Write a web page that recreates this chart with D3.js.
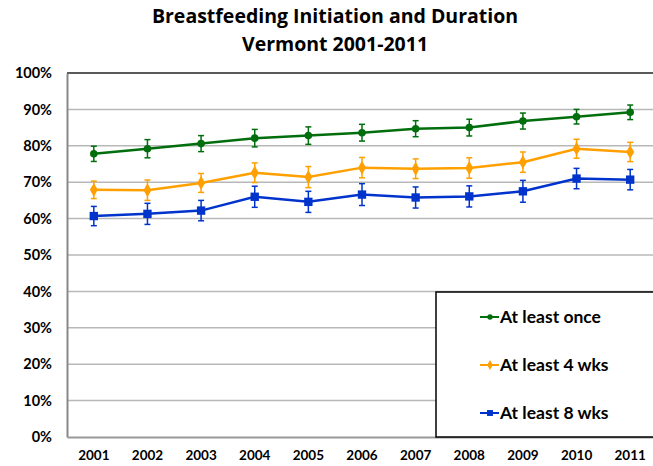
<!DOCTYPE html>
<html>
<head>
<meta charset="utf-8">
<script src="https://cdn.jsdelivr.net/npm/d3@7"></script>
<style>
  body { margin: 0; background: #fff; }
  text { font-family: Lato, "Open Sans", sans-serif; font-weight: bold; }
</style>
</head>
<body>
<div id="chart"></div>
<script>
// Data
const years = ['2001', '2002', '2003', '2004', '2005', '2006', '2007', '2008', '2009', '2010', '2011'];
const atLeastOnce = [77.8, 79.2, 80.6, 82.1, 82.8, 83.6, 84.7, 85.0, 86.8, 88.0, 89.2];
const atLeastOnceErr = [2.1, 2.5, 2.2, 2.4, 2.4, 2.3, 2.2, 2.3, 2.2, 2.0, 2.0];
const atLeast4 = [67.9, 67.8, 69.8, 72.6, 71.4, 74.0, 73.7, 73.9, 75.5, 79.2, 78.3];
const atLeast4Err = [2.4, 2.8, 2.6, 2.7, 2.9, 2.8, 2.7, 2.8, 2.8, 2.6, 2.65];
const atLeast8 = [60.7, 61.3, 62.2, 66.0, 64.6, 66.6, 65.8, 66.1, 67.5, 71.0, 70.7];
const atLeast8Err = [2.65, 2.9, 2.8, 2.9, 2.9, 3.0, 2.9, 2.9, 3.0, 2.8, 2.8];
const yTicks = [0, 10, 20, 30, 40, 50, 60, 70, 80, 90, 100];

const series = [
  { name: 'At least once', values: atLeastOnce, err: atLeastOnceErr, color: '#006e0c', symbol: d3.symbolCircle, size: 45 },
  { name: 'At least 4 wks', values: atLeast4, err: atLeast4Err, color: '#ffa000', symbol: d3.symbolDiamond, size: 55 },
  { name: 'At least 8 wks', values: atLeast8, err: atLeast8Err, color: '#0033cc', symbol: d3.symbolSquare, size: 70 }
];

let width = 653, height = 466;
let margin = { top: 73, bottom: 29, left: 67, right: -4 };

let svg = d3.select('#chart')
  .append('svg')
  .attr('width', width)
  .attr('height', height);

let x = d3.scaleBand()
  .domain(years)
  .range([margin.left, width - margin.right]);

let y = d3.scaleLinear()
  .domain([0, 100])
  .range([height - margin.bottom, margin.top]);

// Title
svg.append('text')
  .attr('x', 335).attr('y', 23)
  .attr('text-anchor', 'middle')
  .style('font-size', '19.5px')
  .style('font-family', '"Open Sans", sans-serif')
  .text('Breastfeeding Initiation and Duration');
svg.append('text')
  .attr('x', 335).attr('y', 51)
  .attr('text-anchor', 'middle')
  .style('font-size', '19.5px')
  .style('font-family', '"Open Sans", sans-serif')
  .text('Vermont 2001-2011');

// Gridlines
svg.append('g')
  .selectAll('line')
  .data(yTicks.filter(t => t > 0 && t < 100))
  .enter()
  .append('line')
  .attr('x1', margin.left).attr('x2', width)
  .attr('y1', d => y(d)).attr('y2', d => y(d))
  .attr('stroke', '#b8b8b8')
  .attr('stroke-width', 1.5);

// Top border
svg.append('line')
  .attr('x1', margin.left).attr('x2', width)
  .attr('y1', y(100)).attr('y2', y(100))
  .attr('stroke', '#222').attr('stroke-width', 1.5);

// Axes
let yAxis = svg.append('g')
  .attr('transform', `translate(${margin.left},0)`)
  .call(d3.axisLeft(y).tickValues(yTicks).tickSize(0).tickPadding(15).tickFormat(d => d + '%'));
yAxis.select('.domain').attr('stroke', '#888').attr('stroke-width', 2);
yAxis.selectAll('text').style('font-size', '14.5px').style('font-weight', 'bold').attr('fill', '#000');

let xAxis = svg.append('g')
  .attr('transform', `translate(0,${y(0)})`)
  .call(d3.axisBottom(x).tickSize(0).tickPadding(13));
xAxis.select('.domain').attr('stroke', '#999').attr('stroke-width', 2);
xAxis.selectAll('text').style('font-size', '13.5px').style('font-weight', 'bold').attr('fill', '#000');

const cx = yr => x(yr) + x.bandwidth() / 2;

series.forEach(s => {
  let data = years.map((yr, i) => ({ yr, v: s.values[i], e: s.err[i] }));
  let g = svg.append('g');

  // error bars
  data.forEach(d => {
    g.append('line')
      .attr('x1', cx(d.yr)).attr('x2', cx(d.yr))
      .attr('y1', y(d.v + d.e)).attr('y2', y(d.v - d.e))
      .attr('stroke', s.color).attr('stroke-width', 1.5);
    [d.v + d.e, d.v - d.e].forEach(v => {
      g.append('line')
        .attr('x1', cx(d.yr) - 3).attr('x2', cx(d.yr) + 3)
        .attr('y1', y(v)).attr('y2', y(v))
        .attr('stroke', s.color).attr('stroke-width', 1.5);
    });
  });

  let line = d3.line()
    .x(d => cx(d.yr))
    .y(d => y(d.v));

  g.append('path')
    .datum(data)
    .attr('d', line)
    .attr('fill', 'none')
    .attr('stroke', s.color)
    .attr('stroke-width', 2.5);

  g.selectAll('path.pt')
    .data(data)
    .enter()
    .append('path')
    .attr('class', 'pt')
    .attr('d', d3.symbol().type(s.symbol).size(s.size))
    .attr('transform', d => `translate(${cx(d.yr)},${y(d.v)})`)
    .attr('fill', s.color);
});

// Legend
let legend = svg.append('g');
legend.append('rect')
  .attr('x', 436).attr('y', 292)
  .attr('width', 230).attr('height', y(0) - 292)
  .attr('fill', '#fff')
  .attr('stroke', '#000')
  .attr('stroke-width', 1.5);

series.forEach((s, i) => {
  let ly = 317 + i * 48;
  legend.append('line')
    .attr('x1', 480).attr('x2', 499)
    .attr('y1', ly).attr('y2', ly)
    .attr('stroke', s.color).attr('stroke-width', 2);
  legend.append('path')
    .attr('d', d3.symbol().type(s.symbol).size(s.size * 0.5))
    .attr('transform', `translate(490,${ly})`)
    .attr('fill', s.color);
  legend.append('text')
    .attr('x', 500).attr('y', ly)
    .attr('dy', '0.35em')
    .style('font-size', '17.5px')
    .text(s.name);
});
</script>
</body>
</html>
